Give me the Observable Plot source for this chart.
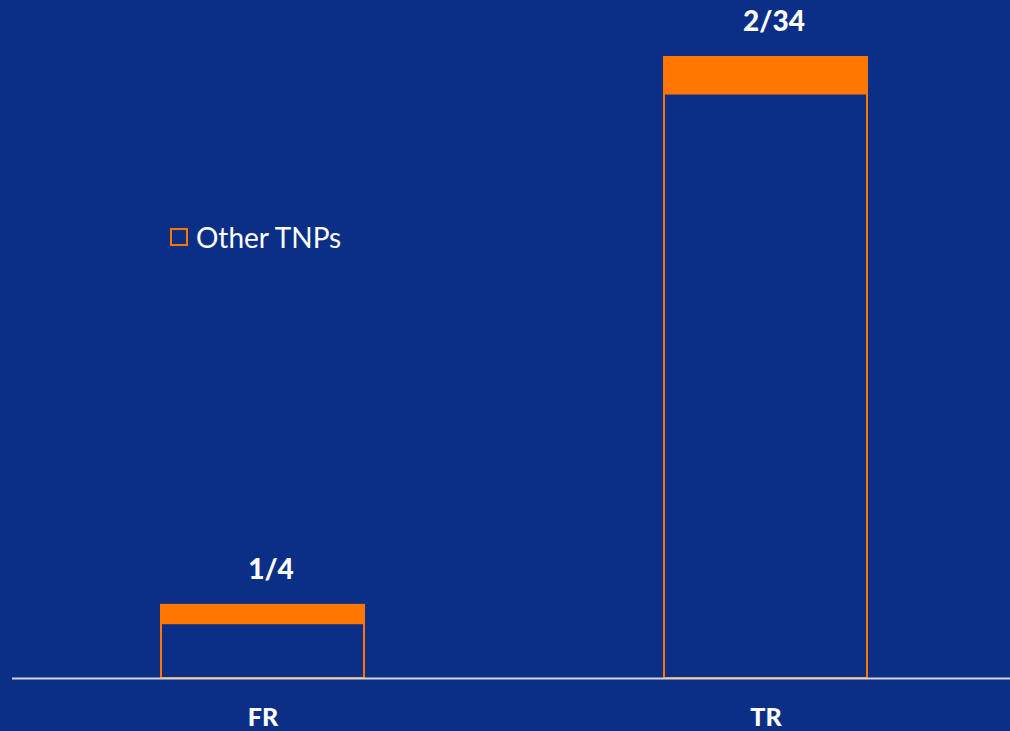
<!DOCTYPE html>
<html>
<head>
<meta charset="utf-8">
<script src="https://cdn.jsdelivr.net/npm/d3@7"></script>
<script src="https://cdn.jsdelivr.net/npm/@observablehq/plot@0.6"></script>
<style>
  html, body { margin: 0; padding: 0; background: #0b2f87; }
  #wrap { position: relative; width: 1010px; height: 731px; overflow: hidden; }
  #legend { position: absolute; left: 170px; top: 220px; display: flex; align-items: center;
            font-family: Lato, "Open Sans", sans-serif; font-size: 28px; color: #ffffff; }
  #legend .sw { width: 14px; height: 14px; border: 2px solid #ff7700; margin-right: 8px; }
</style>
</head>
<body>
<div id="wrap">
  <div id="chart"></div>
  <div id="legend"><span class="sw"></span><span>Other TNPs</span></div>
</div>
<script>
const categories = ["FR", "TR"];
const totals = [4, 34];
const otherTNPs = [1, 2];
const valueLabels = ["1/4", "2/34"];

const orange = "#ff7700";
const data = categories.map((c, i) => ({
  cat: c, total: totals[i], other: otherTNPs[i], label: valueLabels[i]
}));

const chart = Plot.plot({
  width: 1010,
  height: 731,
  marginLeft: 12,
  marginRight: 0,
  marginTop: 57,
  marginBottom: 53,
  style: { background: "transparent", color: "#ffffff", overflow: "visible" },
  x: { domain: categories, paddingInner: 0.596, paddingOuter: 0.29, align: 0.51, label: null },
  y: { domain: [0, 34], axis: null },
  marks: [
    Plot.rectY(data, { x: "cat", y: "total", fill: "none", stroke: orange, strokeWidth: 2 }),
    Plot.rectY(data, { x: "cat", y1: d => d.total - d.other, y2: "total", fill: orange, stroke: orange, strokeWidth: 2 }),
    Plot.ruleY([0], { stroke: "#d4d4d4", strokeWidth: 2 }),
    Plot.text(data, { x: "cat", y: "total", text: "label", dy: -35, dx: 8, fill: "#ffffff",
      fontSize: 28, fontWeight: 900, fontFamily: "Lato, sans-serif" }),
    Plot.axisX({ tickSize: 0, tickPadding: 30, fontSize: 25, fontWeight: 900,
      fontFamily: "Lato, sans-serif", fill: "#ffffff", label: null })
  ]
});
document.getElementById("chart").appendChild(chart);
</script>
</body>
</html>
